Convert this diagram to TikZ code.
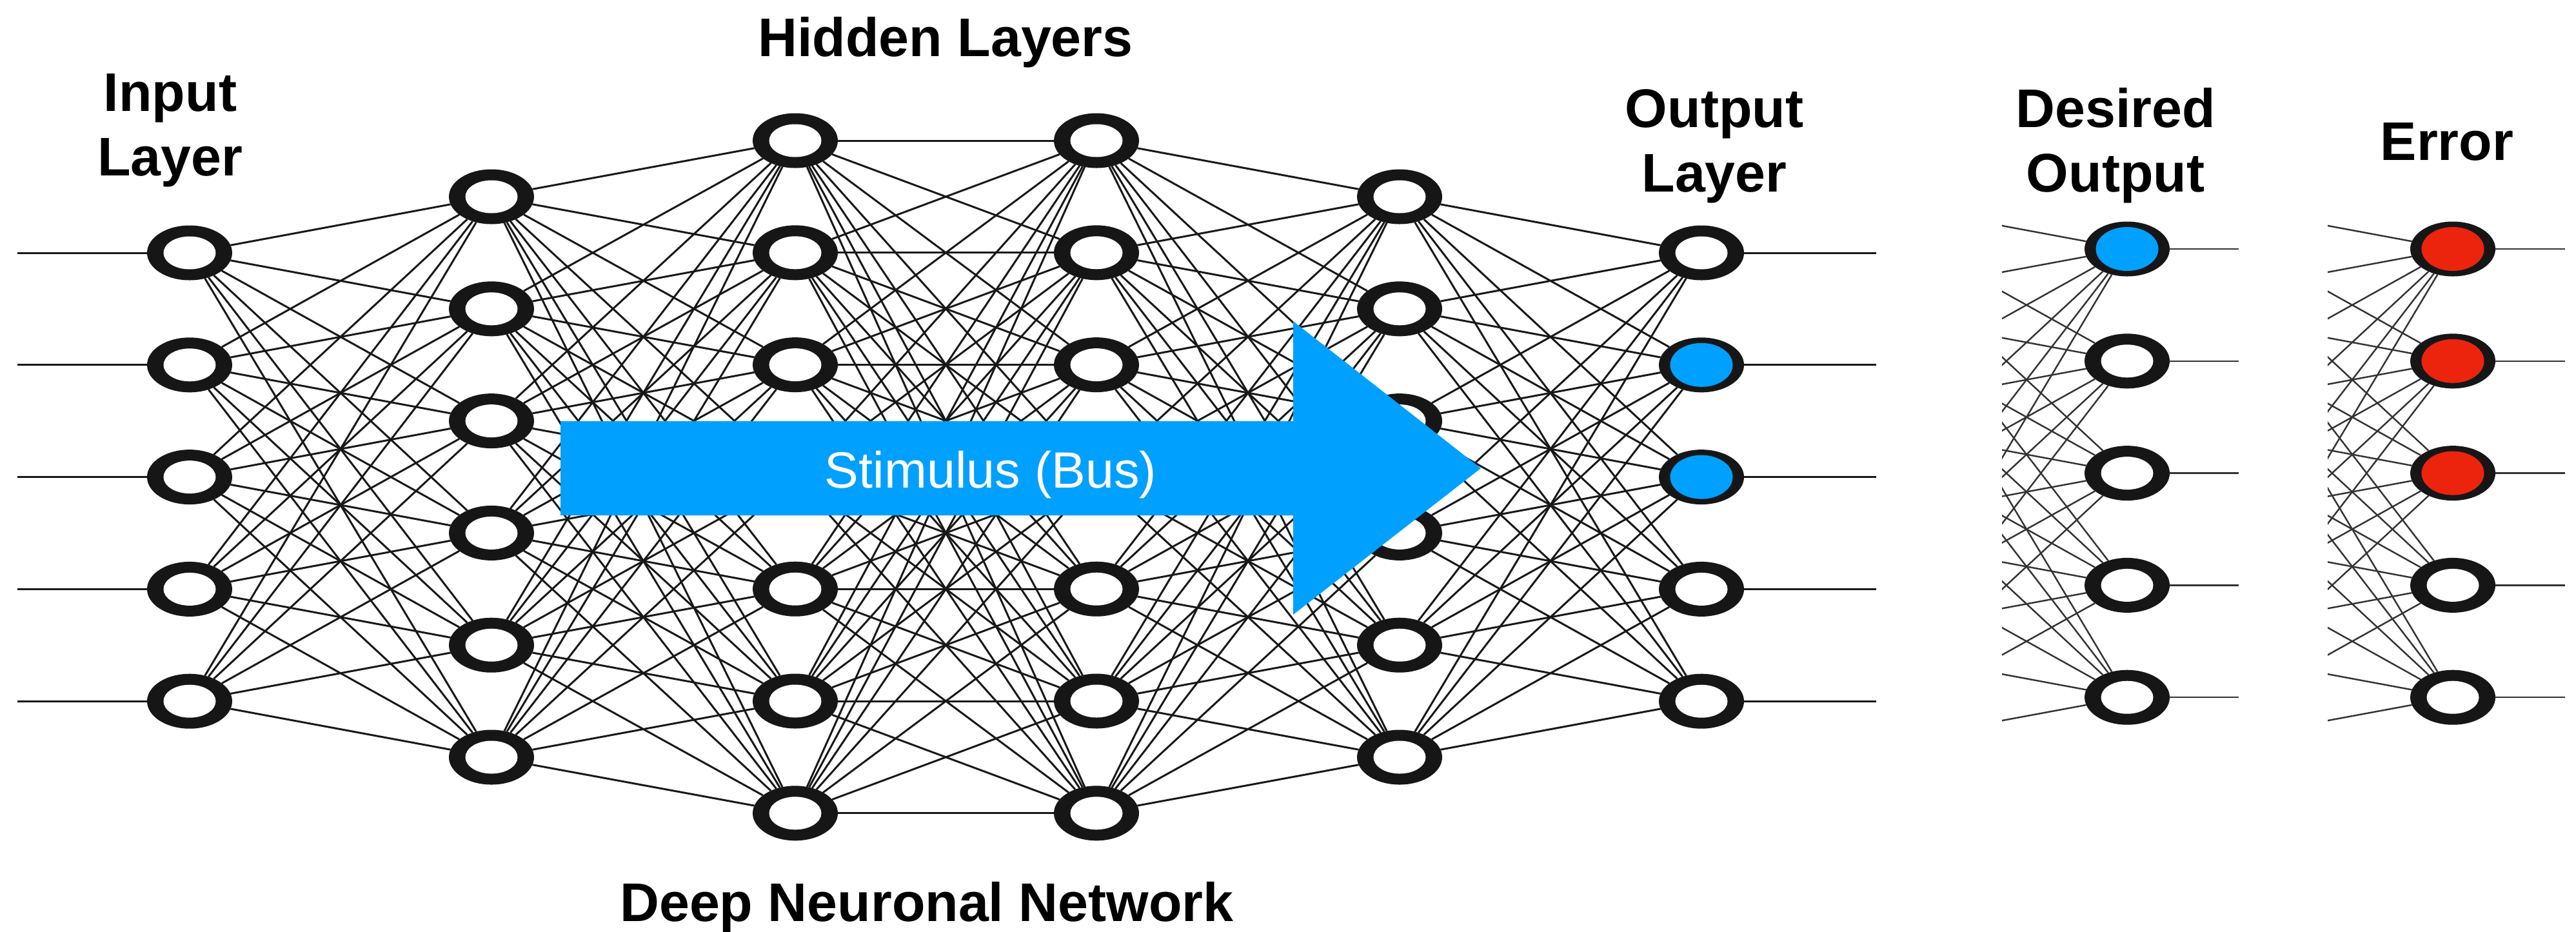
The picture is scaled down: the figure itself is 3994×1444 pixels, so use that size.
\documentclass[tikz,border=0pt]{standalone}
\usepackage{fontspec}
\setmainfont{Liberation Sans}
\usetikzlibrary{shapes.geometric}
\definecolor{bluec}{RGB}{0,160,255}
\definecolor{redc}{RGB}{236,36,14}
\definecolor{ringc}{RGB}{22,22,22}
\definecolor{linec}{RGB}{24,24,24}
\begin{document}
\begin{tikzpicture}[x=0.1mm,y=-0.1mm,
  neuron/.style={ellipse, fill=ringc, minimum width=13.2mm, minimum height=8.5mm, inner sep=0pt, outer sep=0pt,
     path picture={\fill[white] (path picture bounding box.center) ellipse [x radius=4.05mm, y radius=2.55mm];}},
  active/.style={neuron, path picture={\fill[#1] (path picture bounding box.center) ellipse [x radius=4.85mm, y radius=3.4mm];}},
  conn/.style={draw=linec, line width=0.85pt},
  faint/.style={draw=black!80, line width=0.7pt},
  lbl/.style={font=\fontsize{24}{28.7}\selectfont\bfseries, inner sep=0pt, anchor=base},
  stim/.style={font=\fontsize{22.5}{27}\selectfont, text=white, inner sep=0pt, anchor=base}]
\useasboundingbox (0,0) rectangle (3994,1444);
\def\s{173.8}
% ---------- neurons ----------
\foreach \i in {1,...,5} \node[neuron] (in\i) at (294,{392+\s*(\i-1)}) {};
\foreach \i in {1,...,6} \node[neuron] (ha\i) at (762,{305+\s*(\i-1)}) {};
\foreach \i in {1,...,7} \node[neuron] (hb\i) at (1233,{218+\s*(\i-1)}) {};
\foreach \i in {1,...,7} \node[neuron] (hc\i) at (1700,{218+\s*(\i-1)}) {};
\foreach \i in {1,...,6} \node[neuron] (hd\i) at (2170,{305+\s*(\i-1)}) {};
\node[neuron] (out1) at (2638,392) {};
\node[active=bluec] (out2) at (2638,{392+\s}) {};
\node[active=bluec] (out3) at (2638,{392+2*\s}) {};
\node[neuron] (out4) at (2638,{392+3*\s}) {};
\node[neuron] (out5) at (2638,{392+4*\s}) {};
\node[active=bluec] (des1) at (3298,386) {};
\node[neuron] (des2) at (3298,{386+\s}) {};
\node[neuron] (des3) at (3298,{386+2*\s}) {};
\node[neuron] (des4) at (3298,{386+3*\s}) {};
\node[neuron] (des5) at (3298,{386+4*\s}) {};
\node[active=redc] (err1) at (3803,386) {};
\node[active=redc] (err2) at (3803,{386+\s}) {};
\node[active=redc] (err3) at (3803,{386+2*\s}) {};
\node[neuron] (err4) at (3803,{386+3*\s}) {};
\node[neuron] (err5) at (3803,{386+4*\s}) {};
% ---------- free ends ----------
\foreach \i in {1,...,5} {
  \coordinate (il\i) at (27,{392+\s*(\i-1)});
  \coordinate (or\i) at (2909,{392+\s*(\i-1)});
  \coordinate (dr\i) at (3471,{386+\s*(\i-1)});
  \coordinate (er\i) at (3977,{386+\s*(\i-1)});
}
\foreach \i in {1,...,6} {
  \coordinate (ds\i) at (2830,{299+\s*(\i-1)});
  \coordinate (es\i) at (3335,{299+\s*(\i-1)});
}
% ---------- connections ----------
\foreach \i in {1,...,5} {
  \draw[conn] (il\i) -- (in\i);
  \draw[conn] (out\i) -- (or\i);
  \draw[faint] (des\i) -- (dr\i);
  \draw[faint] (err\i) -- (er\i);
}
\foreach \i in {1,...,5} \foreach \j in {1,...,6} \draw[conn] (in\i) -- (ha\j);
\foreach \i in {1,...,6} \foreach \j in {1,...,7} \draw[conn] (ha\i) -- (hb\j);
\foreach \i in {1,...,7} \foreach \j in {1,...,7} \draw[conn] (hb\i) -- (hc\j);
\foreach \i in {1,...,7} \foreach \j in {1,...,6} \draw[conn] (hc\i) -- (hd\j);
\foreach \i in {1,...,6} \foreach \j in {1,...,5} \draw[conn] (hd\i) -- (out\j);
\begin{scope}
  \clip (3104,0) rectangle (3400,1444);
  \foreach \i in {1,...,6} \foreach \j in {1,...,5} \draw[faint] (ds\i) -- (des\j);
\end{scope}
\begin{scope}
  \clip (3609,0) rectangle (3900,1444);
  \foreach \i in {1,...,6} \foreach \j in {1,...,5} \draw[faint] (es\i) -- (err\j);
\end{scope}
% ---------- stimulus arrow ----------
\fill[bluec] (869,653) -- (2005,653) -- (2005,498) -- (2296,726) -- (2005,953) -- (2005,799) -- (869,799) -- cycle;
\node[stim] (stim) at (1536,756) {Stimulus (Bus)};
% ---------- labels ----------
\node[lbl] (lin) at (264,172) {\begin{tabular}[t]{@{}c@{}}Input\\Layer\end{tabular}};
\node[lbl] (lhid) at (1466,87) {Hidden Layers};
\node[lbl] (lout) at (2658,197) {\begin{tabular}[t]{@{}c@{}}Output\\Layer\end{tabular}};
\node[lbl] (ldes) at (3280,197) {\begin{tabular}[t]{@{}c@{}}Desired\\Output\end{tabular}};
\node[lbl] (lerr) at (3794,248) {Error};
\node[lbl] (ldnn) at (1437,1428) {Deep Neuronal Network};
\end{tikzpicture}
\end{document}
